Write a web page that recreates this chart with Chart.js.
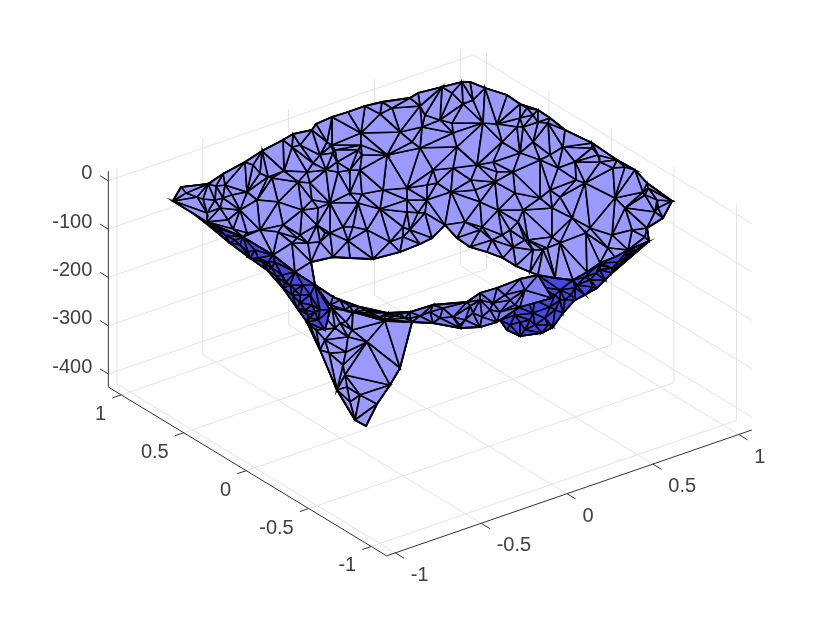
<!DOCTYPE html>
<html>
<head>
<meta charset="utf-8">
<title>Surface</title>
<script src="https://cdn.jsdelivr.net/npm/chart.js@4/dist/chart.umd.min.js"></script>
<style>
  html, body { margin: 0; padding: 0; background: #fff; }
  canvas { display: block; }
</style>
</head>
<body>
<canvas id="chart" width="830" height="623"></canvas>
<script>
// axis ranges and ticks
const xLim = [-1.05, 1.077];
const yLim = [-1.124, 1.103];
const zLim = [-427, 20];
const xTicks = [-1, -0.5, 0, 0.5, 1];
const yTicks = [-1, -0.5, 0, 0.5, 1];
const zTicks = [0, -100, -200, -300, -400];
const xLabels = ["-1", "-0.5", "0", "0.5", "1"];
const yLabels = ["-1", "-0.5", "0", "0.5", "1"];
const zLabels = ["0", "-100", "-200", "-300", "-400"];

// surface in view-plane units. rim = outline, inner = free vertices
const topRimU = [173,181,208,223,245,262,283,293,312,316,332,348,365,382,410,418,442,462,470,485,507,520,538,550,565,592,617,635,647,672,663,647,649,628,615,600,587,573,555,538,530,516,503,487,470,457,445,432,420,400,373,350,333,311,315,295,273,243,207];
const topRimV = [201,187,184,174,162,151,140,134,130,124,117,112,106,102,98,93,87,82,82,88,95,104,110,118,130,143,160,170,183,201,218,228,241,250,257,263,272,280,278,275,272,266,258,252,247,238,225,238,244,252,259,258,257,262,285,272,255,237,222];
const topInnerU = [186,203,207,216,232,240,233,253,260,257,272,284,260,278,283,297,298,302,318,292,327,335,300,313,337,361,380,361,362,387,412,420,422,326,360,362,383,330,407,380,367,403,348,320,390,407,427,440,463,483,497,502,457,523,433,477,540,520,513,548,451,471,495,515,480,498,518,540,550,425,465,482,502,528,547,558,576,575,600,613,615,643,655,590,572,552,612,608,586,552,543,560,525,
  223,197,215,247,268,225,220,228,278,312,317,308,325,292,247,
  332,333,358,338,350,400,425,392,307,320,
  452,453,520,533,538,517,527,473,452,533,493,453,420,497,
  358,343,330,410,407,418,403,300,350,310,353,
  475,480,492,510,533,513,523,437,427,
  592,598,645,648,657,658,625,625,563,550,585,560,632,645];
const topInnerV = [193,199,213,186,195,210,229,165,173,200,178,171,230,232,225,238,182,210,208,147,142,150,145,163,162,133,114,145,155,155,142,106,127,170,170,194,190,203,212,209,230,237,241,242,242,188,185,120,104,123,124,142,147,127,170,165,160,153,172,123,192,180,182,193,202,210,222,198,190,213,222,227,235,240,248,168,180,162,162,168,198,192,212,228,218,208,235,248,233,237,250,243,240,
  198,197,200,192,177,185,208,220,202,200,225,243,233,243,233,
  145,153,150,172,170,132,115,108,172,155,
  123,133,118,115,122,127,108,100,93,142,162,168,148,172,
  203,227,233,230,200,213,227,235,193,183,227,
  190,230,240,230,250,247,210,183,200,
  148,155,195,188,200,208,208,167,147,155,183,197,230,237];

const leftRimU = [185,207,230,250,267,283,297,307,325,330,315,295,273,243,207];
const leftRimV = [207,224,243,258,270,288,308,322,330,310,285,272,255,237,222];
const leftInnerU = [225,240,255,262,272,282,290,300,305,312,318,295,218,248,268,286,310,235,258,266,276,285,292,300,308,315,303,310,320,275];
const leftInnerV = [235,245,250,262,268,275,285,295,310,305,320,290,228,252,262,282,318,240,258,265,276,283,295,303,315,312,285,295,310,262];

const pitRimU = [306,320,337,355,366,377,390,400,412,385,353,333,315,306];
const pitRimV = [320,350,390,420,426,404,385,368,322,321,312,297,285,300];
const pitInnerU = [367,348,346,329,347,346,340,320,332,316,350,310,325,335,352,345,343,360];
const pitInnerV = [342,337,352,353,387,322,323,312,308,330,402,325,340,328,330,375,365,395];

const bandRimU = [315,333,360,387,410,433,467,480,497,520,538,552,520,497,480,460,433,412,385,353,330];
const bandRimV = [285,297,307,313,312,305,302,293,288,279,275,298,307,322,327,328,323,322,320,312,305];
const bandInnerU = [350,370,395,420,443,453,473,460,482,493,510,345,380,405,505,525,340,365,385,400,430,410,440,465,470,490,500,480,515];
const bandInnerV = [306,313,316,316,308,317,313,325,317,303,300,310,317,318,295,290,300,310,316,314,312,318,318,320,306,310,312,300,305];

const rightRimU = [648,612,597,575,563,553,542,520,507,500,497,538,573,600,628];
const rightRimV = [242,273,288,300,313,327,333,336,330,320,295,275,280,263,250];
const rightInnerU = [600,596,593,577,571,555,540,550,533,513,520,535,560,585,545,565,525,618,630,605,590,612,625,636,575,585,560,555,535,530,515,510,525,548,600];
const rightInnerV = [270,273,287,285,295,295,287,307,313,305,322,325,290,277,318,300,295,262,252,280,280,268,258,250,288,295,300,310,300,320,315,325,330,325,265];

const lightFace = "#9999ff";
const darkFace = "#4646ea";
const midFace = "#7f7ff6";
const gridColor = "#e3e3e3";
const axisColor = "#333333";
const textColor = "#404040";

// orthographic view of the axes box
function project(x, y, z) {
  return {
    x: 426.5 + 171.7 * x - 125 * y,
    y: 408.5 - 59.2 * x - 75.8 * y - 0.483 * (z - zLim[0])
  };
}

function segment(a, b, color, width, order) {
  return {
    data: [a, b], showLine: true, pointRadius: 0, fill: false,
    borderColor: color, borderWidth: width, order: order
  };
}

function axesDatasets() {
  const sets = [];
  const grid = (a, b) => sets.push(segment(a, b, gridColor, 1, 1000));
  const axis = (a, b) => sets.push(segment(a, b, axisColor, 1, 900));
  xTicks.forEach((t) => {
    grid(project(t, yLim[0], zLim[0]), project(t, yLim[1], zLim[0]));
    grid(project(t, yLim[1], zLim[0]), project(t, yLim[1], zLim[1]));
    axis(project(t, yLim[0], zLim[0]), project(t, yLim[0] - 0.07, zLim[0]));
  });
  yTicks.forEach((t) => {
    grid(project(xLim[0], t, zLim[0]), project(xLim[1], t, zLim[0]));
    grid(project(xLim[1], t, zLim[0]), project(xLim[1], t, zLim[1]));
    axis(project(xLim[0], t, zLim[0]), project(xLim[0] - 0.052, t, zLim[0]));
  });
  zTicks.forEach((t) => {
    grid(project(xLim[0], yLim[1], t), project(xLim[1], yLim[1], t));
    grid(project(xLim[1], yLim[1], t), project(xLim[1], yLim[0], t));
    axis(project(xLim[0], yLim[1], t), project(xLim[0], yLim[1] + 0.066, t));
  });
  axis(project(xLim[0], yLim[0], zLim[0]), project(xLim[1], yLim[0], zLim[0]));
  axis(project(xLim[0], yLim[0], zLim[0]), project(xLim[0], yLim[1], zLim[0]));
  axis(project(xLim[0], yLim[1], zLim[0]), project(xLim[0], yLim[1], zLim[1]));
  return sets;
}

// Bowyer-Watson, the faces are not in the picture's data so they get rebuilt from the vertices
function delaunay(pts) {
  const n = pts.length;
  const all = pts.concat([{ x: -5000, y: -5000 }, { x: 6000, y: -5000 }, { x: 500, y: 7000 }]);
  let tris = [[n, n + 1, n + 2]];
  const inCircle = (t, p) => {
    const [a, b, c] = t.map((i) => all[i]);
    const ax = a.x - p.x, ay = a.y - p.y;
    const bx = b.x - p.x, by = b.y - p.y;
    const cx = c.x - p.x, cy = c.y - p.y;
    const det = (ax * ax + ay * ay) * (bx * cy - cx * by)
      - (bx * bx + by * by) * (ax * cy - cx * ay)
      + (cx * cx + cy * cy) * (ax * by - bx * ay);
    const orient = (b.x - a.x) * (c.y - a.y) - (b.y - a.y) * (c.x - a.x);
    return orient > 0 ? det > 0 : det < 0;
  };
  for (let i = 0; i < n; i++) {
    const bad = tris.filter((t) => inCircle(t, all[i]));
    const edges = {};
    bad.forEach((t) => {
      [[t[0], t[1]], [t[1], t[2]], [t[2], t[0]]].forEach(([a, b]) => {
        const key = a < b ? a + "_" + b : b + "_" + a;
        edges[key] = edges[key] ? null : [a, b];
      });
    });
    tris = tris.filter((t) => !bad.includes(t));
    Object.values(edges).forEach((e) => {
      if (e) tris.push([e[0], e[1], i]);
    });
  }
  return tris.filter((t) => t.every((i) => i < n));
}

function inside(poly, p) {
  let hit = false;
  for (let i = 0, j = poly.length - 1; i < poly.length; j = i++) {
    if ((poly[i].y > p.y) !== (poly[j].y > p.y)
      && p.x < (poly[j].x - poly[i].x) * (p.y - poly[i].y) / (poly[j].y - poly[i].y) + poly[i].x) {
      hit = !hit;
    }
  }
  return hit;
}

function toPoints(us, vs) {
  return us.map((u, i) => ({ x: u, y: vs[i] }));
}

function surfaceDatasets(rimU, rimV, innerU, innerV, face, order) {
  const rim = toPoints(rimU, rimV);
  const pts = rim.concat(toPoints(innerU, innerV));
  const closed = rim.concat([rim[0]]);
  const sets = [{
    data: closed, showLine: true, pointRadius: 0, fill: "shape",
    backgroundColor: face, borderColor: "#000", borderWidth: 1.8, order: order + 2
  }];
  delaunay(pts).forEach((t) => {
    const [a, b, c] = t.map((i) => pts[i]);
    const mid = { x: (a.x + b.x + c.x) / 3, y: (a.y + b.y + c.y) / 3 };
    if (!inside(rim, mid)) return;
    sets.push({
      data: [a, b, c, a], showLine: true, pointRadius: 0, fill: "shape",
      backgroundColor: face, borderColor: "#000", borderWidth: 1.7, order: order + 1
    });
  });
  sets.push({
    data: closed, showLine: true, pointRadius: 0, fill: false,
    borderColor: "#000", borderWidth: 1.8, order: order
  });
  return sets;
}

const tickText = {
  id: "tickText",
  afterDraw(chart) {
    const { ctx, scales } = chart;
    ctx.save();
    ctx.font = "20px 'Liberation Sans', Arial, sans-serif";
    ctx.fillStyle = textColor;
    ctx.textBaseline = "middle";
    const put = (p, dx, dy, text) => {
      ctx.fillText(text, scales.x.getPixelForValue(p.x) + dx, scales.y.getPixelForValue(p.y) + dy);
    };
    ctx.textAlign = "left";
    xTicks.forEach((t, i) => put(project(t, yLim[0], zLim[0]), 15.5, 22.5, xLabels[i]));
    ctx.textAlign = "right";
    yTicks.forEach((t, i) => put(project(xLim[0], t, zLim[0]), -15, 19.5, yLabels[i]));
    zTicks.forEach((t, i) => put(project(xLim[0], yLim[1], t), -16, -7, zLabels[i]));
    ctx.restore();
  }
};

const datasets = axesDatasets().concat(
  surfaceDatasets(pitRimU, pitRimV, pitInnerU, pitInnerV, lightFace, 800),
  surfaceDatasets(rightRimU, rightRimV, rightInnerU, rightInnerV, darkFace, 700),
  surfaceDatasets(bandRimU, bandRimV, bandInnerU, bandInnerV, midFace, 600),
  surfaceDatasets(leftRimU, leftRimV, leftInnerU, leftInnerV, darkFace, 500),
  surfaceDatasets(topRimU, topRimV, topInnerU, topInnerV, lightFace, 400)
);

new Chart(document.getElementById("chart"), {
  type: "scatter",
  data: { datasets: datasets },
  plugins: [tickText],
  options: {
    responsive: false,
    animation: false,
    layout: { padding: 0 },
    plugins: { legend: { display: false }, tooltip: { enabled: false } },
    scales: {
      x: { type: "linear", min: 0, max: 830, display: false },
      y: { type: "linear", min: 0, max: 623, reverse: true, display: false }
    }
  }
});
</script>
</body>
</html>
